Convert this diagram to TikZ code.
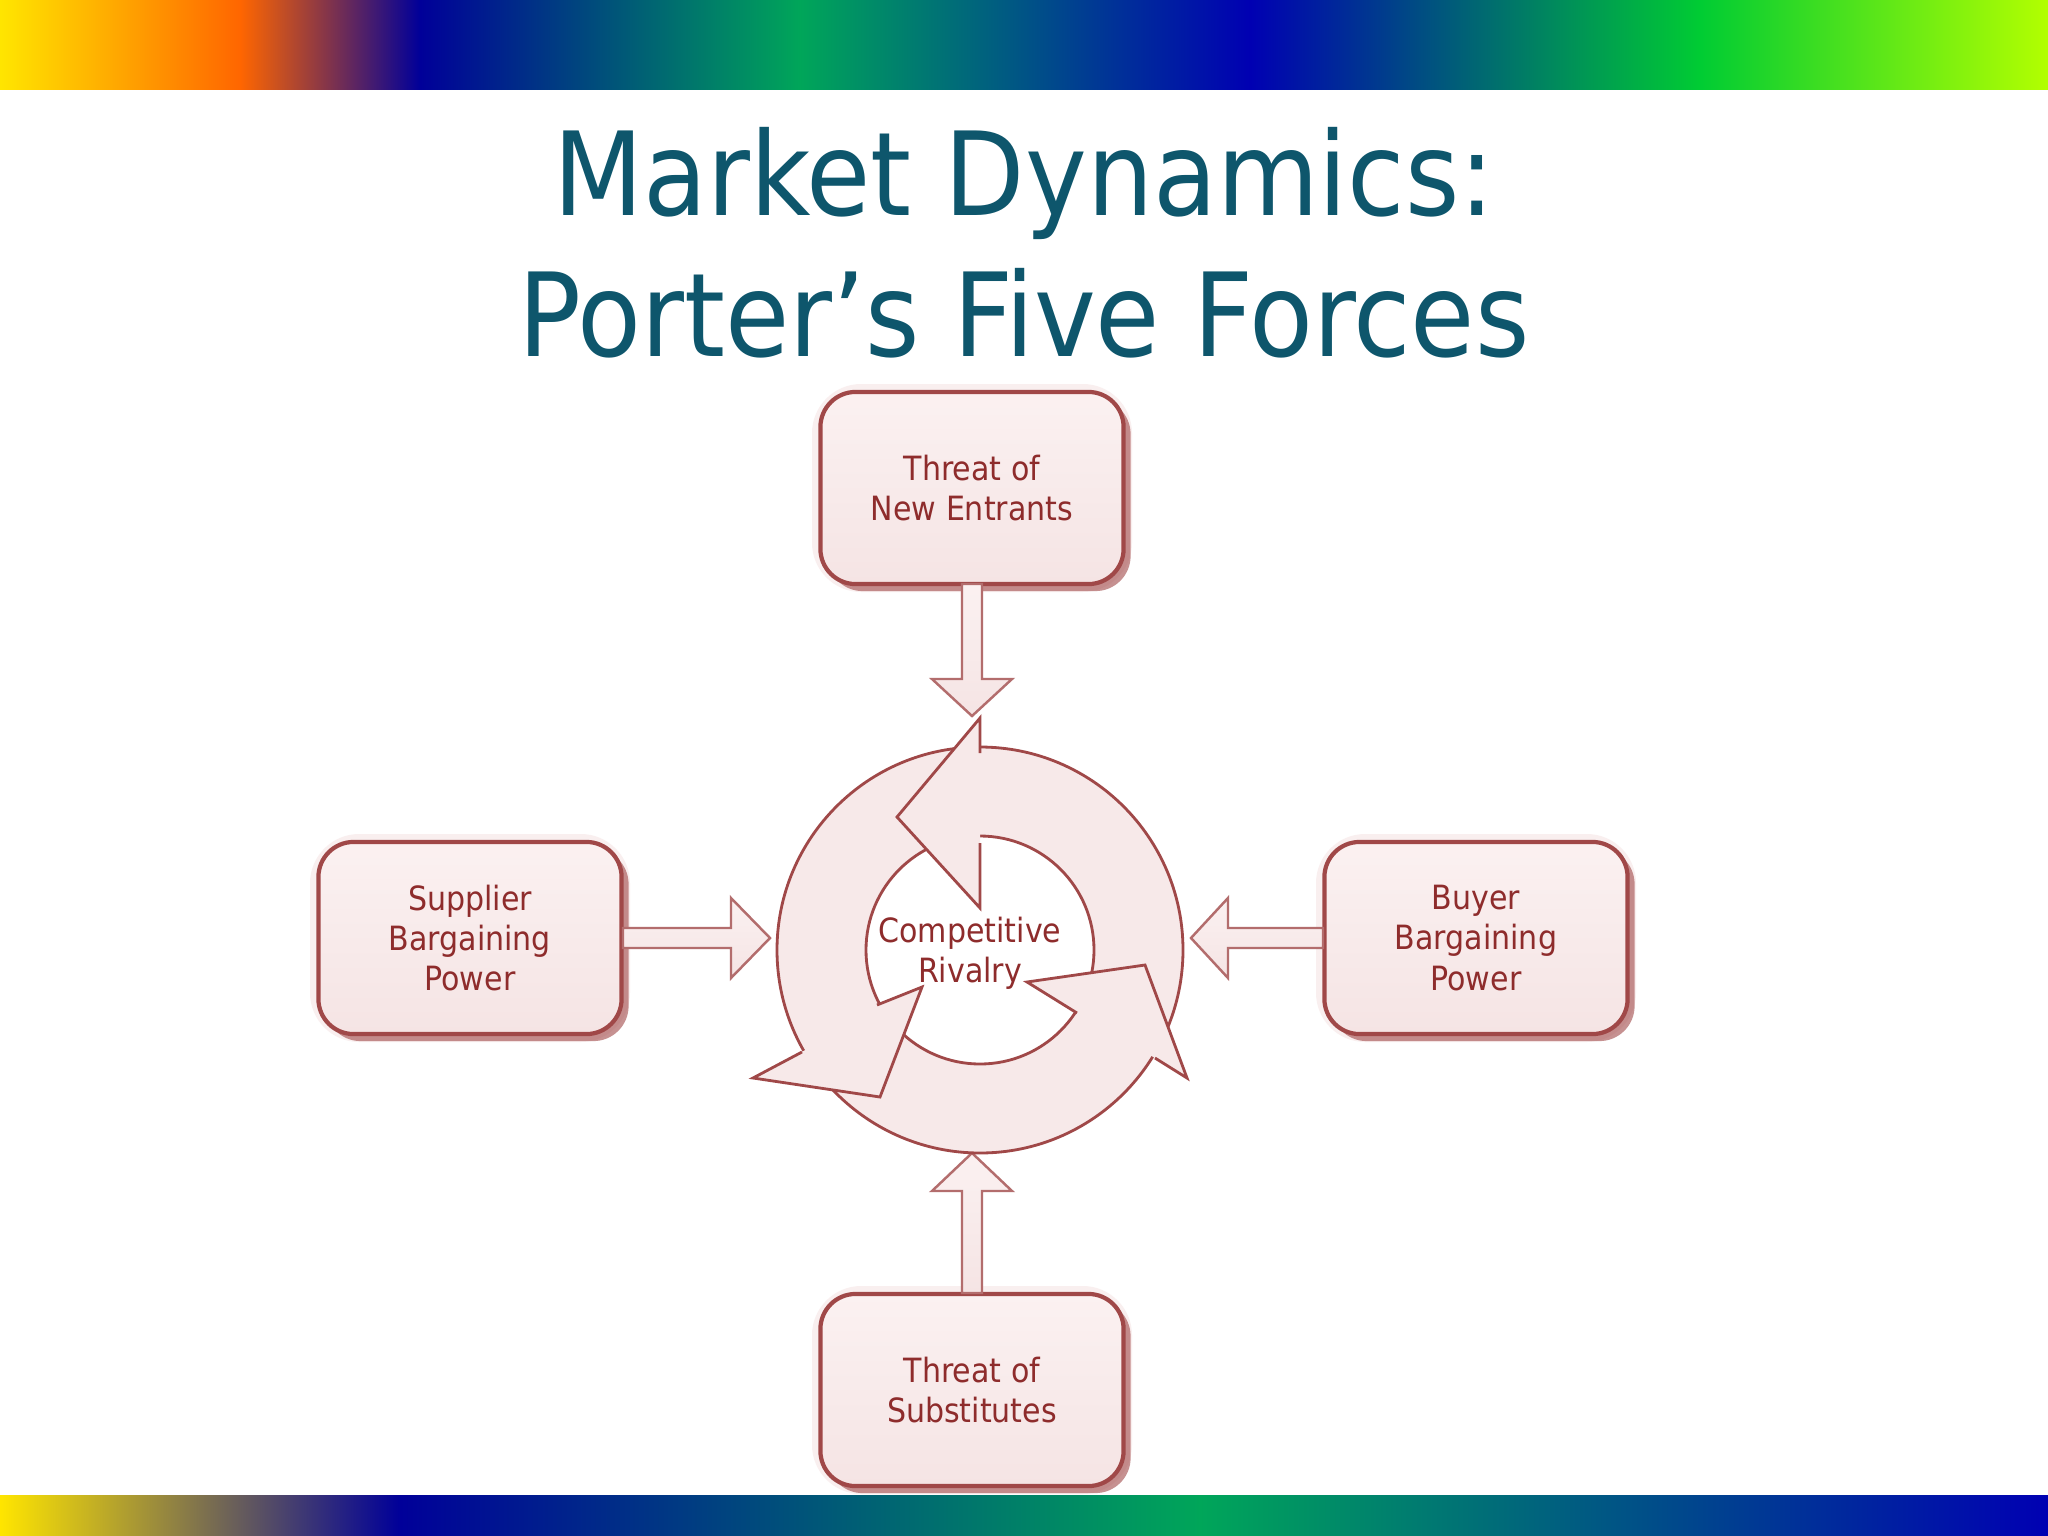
\documentclass[tikz,border=0pt]{standalone}
\usepackage{fontspec}
\setmainfont{DejaVu Sans}
\newfontfamily\boxfont{DejaVu Sans Condensed}
\usetikzlibrary{shadows}
\definecolor{titleteal}{HTML}{0E566C}
\definecolor{dred}{HTML}{A04848}
\definecolor{tred}{HTML}{8E2C2C}
\definecolor{pinkfill}{HTML}{F5E4E4}
\definecolor{pinklite}{HTML}{FBF1F1}
\begin{document}
\begin{tikzpicture}[x=0.01cm,y=-0.01cm,
  forcebox/.style={draw=dred,line width=1.2pt,rounded corners=10pt,minimum width=3.03cm,minimum height=1.92cm,
    top color=pinklite,bottom color=pinkfill,align=center,text=tred,font=\boxfont\fontsize{9.5}{11.5}\selectfont,
    drop shadow={shadow xshift=2pt,shadow yshift=-2pt,fill=dred,opacity=0.6}},
  glow/.style={fill=pinkfill!60,rounded corners=14pt},
  blockarrow/.style={draw=dred!80,line width=0.7pt,top color=pinklite,bottom color=pinkfill},
  titletext/.style={text=titleteal,font=\boxfont\fontsize{33}{40}\selectfont}]
\useasboundingbox (0,0) rectangle (2048,1536);
\fill[white] (0,0) rectangle (2048,1536);
% top and bottom decorative bands
\shade[left color=yellow!80!orange,right color=orange!80!red] (0,0) rectangle (240,89);
\shade[left color=orange!80!red,right color=blue!60!black] (240,0) rectangle (420,89);
\shade[left color=blue!60!black,right color=teal!70!green] (420,0) rectangle (800,89);
\shade[left color=teal!70!green,right color=blue!70!black] (800,0) rectangle (1250,89);
\shade[left color=blue!70!black,right color=green!60!teal] (1250,0) rectangle (1700,89);
\shade[left color=green!60!teal,right color=yellow!70!green] (1700,0) rectangle (2048,89);
\shade[left color=yellow!80!orange,right color=blue!60!black] (0,1495) rectangle (400,1536);
\shade[left color=blue!60!black,right color=teal!70!green] (400,1495) rectangle (1200,1536);
\shade[left color=teal!70!green,right color=blue!70!black] (1200,1495) rectangle (2048,1536);
% title
\node[titletext] (t1) at (1024,183) {Market Dynamics:};
\node[titletext] (t2) at (1024,313) {Porter’s Five Forces};
% boxes
\foreach \p in {(972,488),(470,938),(1476,938),(972,1390)}
  \fill[glow] \p ++(-160,-104) rectangle ++(320,208);
\node[forcebox] (top) at (972,488) {Threat of\\New Entrants};
\node[forcebox] (left) at (470,938) {Supplier\\Bargaining\\Power};
\node[forcebox] (right) at (1476,938) {Buyer\\Bargaining\\Power};
\node[forcebox] (bot) at (972,1390) {Threat of\\Substitutes};
% block arrows
\draw[blockarrow] (962,584) -- (962,679) -- (932,679) -- (972,716) -- (1012,679) -- (982,679) -- (982,584) -- cycle;
\draw[blockarrow] (623,928) -- (731,928) -- (731,898) -- (770,938) -- (731,978) -- (731,948) -- (623,948) -- cycle;
\draw[blockarrow] (1323,928) -- (1228,928) -- (1228,898) -- (1191,938) -- (1228,978) -- (1228,948) -- (1323,948) -- cycle;
\draw[blockarrow] (962,1293) -- (962,1191) -- (932,1191) -- (972,1153) -- (1012,1191) -- (982,1191) -- (982,1293) -- cycle;
% ring
\coordinate (c) at (980,950);
\fill[pinkfill!80,even odd rule] (c) circle[radius=203] (c) circle[radius=114];
\draw[dred,line width=0.8pt] (c) circle[radius=203] (c) circle[radius=114];
% arrowheads
\fill[pinkfill!80] (980,718) -- (897,817) -- (980,908) -- cycle;
\draw[dred,line width=0.8pt] (980,753) -- (980,718) -- (897,817) -- (980,908) -- (980,843);
\fill[pinkfill!80] (802,1052) -- (753,1078) -- (880,1097) -- (922,987) -- (877,1005) -- cycle;
\draw[dred,line width=0.8pt] (802,1052) -- (753,1078) -- (880,1097) -- (922,987) -- (877,1005);
\fill[pinkfill!80] (1077,1013) -- (1027,982) -- (1145,965) -- (1187,1078) -- (1155,1058) -- cycle;
\draw[dred,line width=0.8pt] (1077,1013) -- (1027,982) -- (1145,965) -- (1187,1078) -- (1155,1058);
\node[text=tred,align=center,font=\boxfont\fontsize{9.5}{11.5}\selectfont] (cr) at (970,953) {Competitive\\Rivalry};
\end{tikzpicture}
\end{document}
